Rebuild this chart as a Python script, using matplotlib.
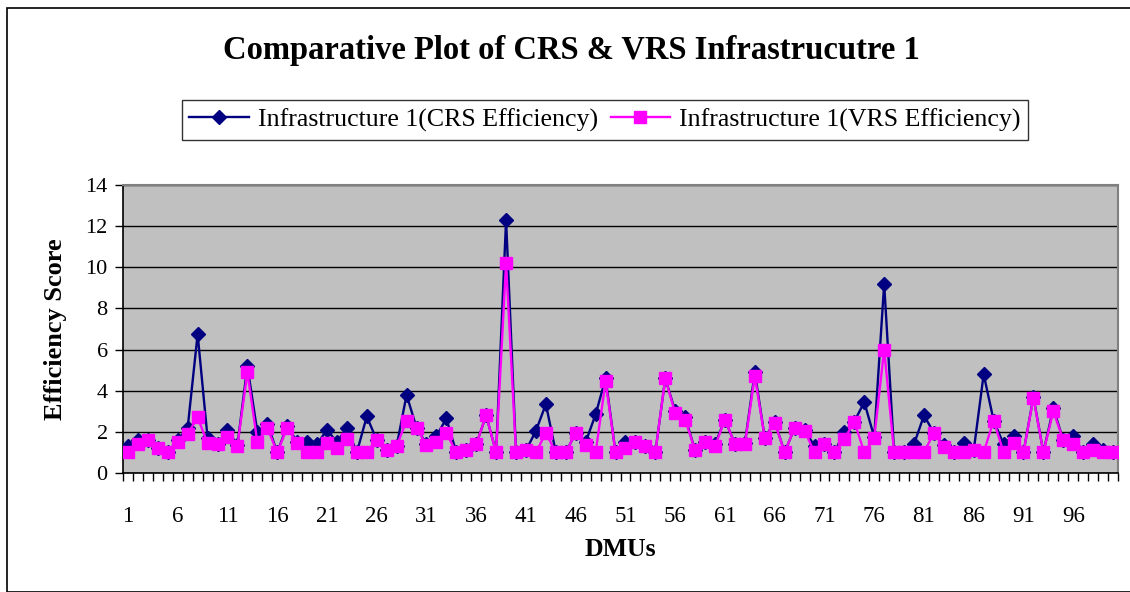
import matplotlib.pyplot as plt
from matplotlib.patches import Rectangle
import numpy as np

# efficiency scores per DMU
dmus = list(range(1, 101))
crs = [1.3, 1.6, 1.6, 1.2, 1.0, 1.6, 2.2, 6.75, 1.7, 1.4,
       2.1, 1.35, 5.2, 2.0, 2.4, 1.0, 2.3, 1.5, 1.5, 1.4,
       2.1, 1.5, 2.2, 1.0, 2.75, 1.6, 1.1, 1.3, 3.8, 2.2,
       1.4, 1.8, 2.65, 1.0, 1.1, 1.4, 2.8, 1.0, 12.3, 1.0,
       1.1, 2.05, 3.35, 1.0, 1.0, 1.95, 1.5, 2.85, 4.6, 1.0,
       1.5, 1.5, 1.3, 1.0, 4.6, 3.0, 2.7, 1.1, 1.5, 1.4,
       2.6, 1.4, 1.45, 4.9, 1.7, 2.5, 1.0, 2.2, 2.1, 1.3,
       1.4, 1.0, 2.0, 2.5, 3.45, 1.75, 9.2, 1.0, 1.0, 1.4,
       2.8, 1.95, 1.35, 1.0, 1.45, 1.1, 4.8, 2.55, 1.4, 1.8,
       1.0, 3.7, 1.0, 3.15, 1.6, 1.8, 1.0, 1.4, 1.1, 1.0]
vrs = [1.0, 1.4, 1.6, 1.2, 1.0, 1.5, 1.9, 2.7, 1.45, 1.4,
       1.75, 1.3, 4.9, 1.5, 2.2, 1.0, 2.2, 1.45, 1.0, 1.0,
       1.45, 1.2, 1.65, 1.0, 1.0, 1.6, 1.1, 1.3, 2.55, 2.2,
       1.35, 1.5, 1.95, 1.0, 1.1, 1.4, 2.8, 1.0, 10.2, 1.0,
       1.1, 1.0, 1.95, 1.0, 1.0, 1.95, 1.35, 1.0, 4.45, 1.0,
       1.2, 1.5, 1.3, 1.0, 4.6, 2.9, 2.6, 1.1, 1.5, 1.3,
       2.6, 1.4, 1.4, 4.7, 1.7, 2.45, 1.0, 2.2, 2.05, 1.0,
       1.4, 1.0, 1.65, 2.5, 1.0, 1.7, 6.0, 1.0, 1.0, 1.0,
       1.0, 1.95, 1.25, 1.0, 1.0, 1.1, 1.0, 2.55, 1.0, 1.45,
       1.0, 3.65, 1.0, 3.0, 1.6, 1.4, 1.0, 1.1, 1.0, 1.0]
xticklabels = [str(i) for i in range(1, 101, 5)]

serif = 'Liberation Serif'

fig = plt.figure(figsize=(11.3, 5.92), dpi=100)
fig.patch.set_facecolor('white')
ax = fig.add_axes([123/1130, 119/592, 995/1130, 288/592])
ax.set_facecolor('#C0C0C0')

# chart border
fig.patches.append(Rectangle((7/1130, 0), 1.2, 1 - 8/592, transform=fig.transFigure,
                             fill=False, edgecolor='black', linewidth=1.2))

ax.plot(dmus, crs, color='#000080', marker='D', markersize=7.5, linewidth=1.7,
        label='Infrastructure 1(CRS Efficiency)', zorder=3)
ax.plot(dmus, vrs, color='#FF00FF', marker='s', markersize=8, linewidth=1.7,
        label='Infrastructure 1(VRS Efficiency)', zorder=4)

ax.set_xlim(0.5, 100.5)
ax.set_ylim(0, 14)
ax.set_yticks(np.arange(0, 15, 2))
ax.set_yticklabels([str(v) for v in range(0, 15, 2)], fontfamily=serif, fontsize=16)
ax.set_xticks(range(1, 101, 5))
ax.set_xticklabels(xticklabels, fontfamily=serif, fontsize=16.5)
ax.set_xticks(np.arange(0.5, 101, 1), minor=True)
ax.tick_params(axis='x', which='major', length=0, pad=24)
ax.tick_params(axis='x', which='minor', length=6, width=1, direction='out', color='black')
ax.tick_params(axis='y', length=6, width=1, direction='out', pad=5)

ax.yaxis.grid(True, color='black', linewidth=1)
ax.set_axisbelow(True)
for side in ['top', 'right']:
    ax.spines[side].set_color('#808080')
    ax.spines[side].set_linewidth(1.5)
for side in ['left', 'bottom']:
    ax.spines[side].set_color('black')
    ax.spines[side].set_linewidth(1.2)

fig.text(0.506, 1 - 50/592, 'Comparative Plot of CRS & VRS Infrastrucutre 1',
         ha='center', va='center', fontfamily=serif, fontweight='bold', fontsize=23.5)
fig.text(0.049, 1 - 329/592, 'Efficiency Score', rotation=90, ha='center', va='center',
         fontfamily=serif, fontweight='bold', fontsize=19)
fig.text(0.549, 1 - 550/592, 'DMUs', ha='center', va='center',
         fontfamily=serif, fontweight='bold', fontsize=18.5)

leg = ax.legend(loc='center', bbox_to_anchor=(605/1130, 1 - 120/592),
                bbox_transform=fig.transFigure, ncol=2, frameon=True, fancybox=False,
                prop={'family': serif, 'size': 18.6}, handlelength=2.3, columnspacing=0.5,
                handletextpad=0.35, borderpad=0.3, borderaxespad=0)
leg.get_frame().set_edgecolor('black')
leg.get_frame().set_linewidth(1)

fig.savefig('out.png', dpi=100)
